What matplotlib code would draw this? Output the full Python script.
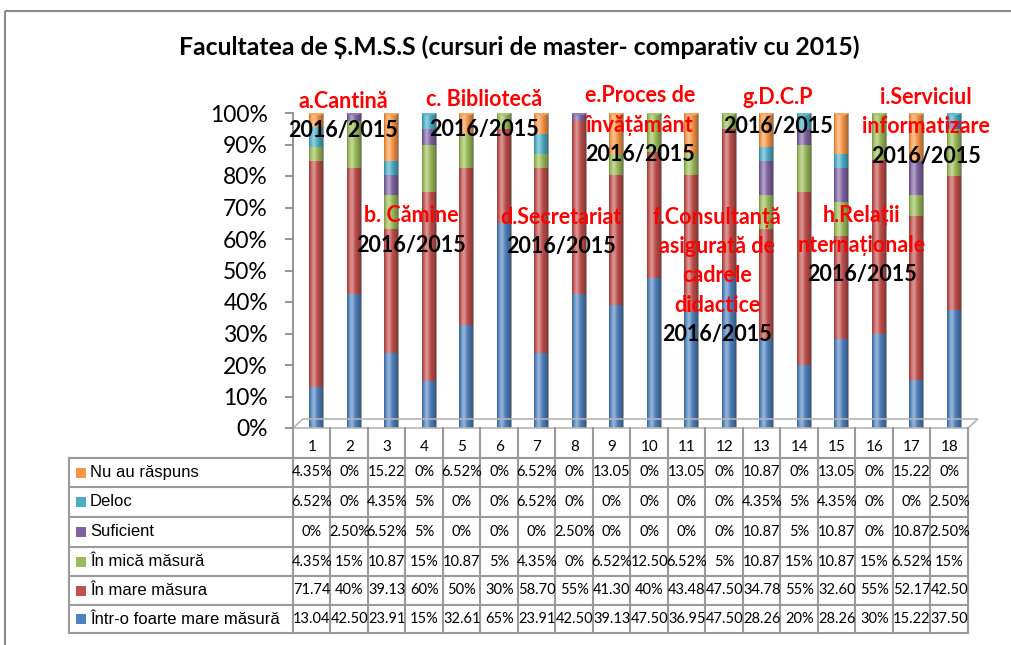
import numpy as np
import matplotlib
matplotlib.use("Agg")
import matplotlib.pyplot as plt
from matplotlib.patches import Ellipse, Rectangle, Polygon
from matplotlib.lines import Line2D

# ---------------- data ----------------
categories = [str(i) for i in range(1, 19)]
series_names = ["Nu au răspuns", "Deloc", "Suficient", "În mică măsură",
                "În mare măsura", "Într-o foarte mare măsură"]
nu_au_raspuns = [4.35, 0, 15.22, 0, 6.52, 0, 6.52, 0, 13.05, 0, 13.05, 0, 10.87, 0, 13.05, 0, 15.22, 0]
deloc = [6.52, 0, 4.35, 5, 0, 0, 6.52, 0, 0, 0, 0, 0, 4.35, 5, 4.35, 0, 0, 2.50]
suficient = [0, 2.50, 6.52, 5, 0, 0, 0, 2.50, 0, 0, 0, 0, 10.87, 5, 10.87, 0, 10.87, 2.50]
in_mica = [4.35, 15, 10.87, 15, 10.87, 5, 4.35, 0, 6.52, 12.50, 6.52, 5, 10.87, 15, 10.87, 15, 6.52, 15]
in_mare = [71.74, 40, 39.13, 60, 50, 30, 58.70, 55, 41.30, 40, 43.48, 47.50, 34.78, 55, 32.60, 55, 52.17, 42.50]
foarte_mare = [13.04, 42.50, 23.91, 15, 32.61, 65, 23.91, 42.50, 39.13, 47.50, 36.95, 47.50, 28.26, 20, 28.26, 30, 15.22, 37.50]
colors = ["#F79646", "#4BACC6", "#8064A2", "#9BBB59", "#C0504D", "#4F81BD"]

title = "Facultatea de Ș.M.S.S (cursuri de master- comparativ cu 2015)"
yticks = [0, 10, 20, 30, 40, 50, 60, 70, 80, 90, 100]

# annotations: (lines, x centre px, first-line y px)
annotations = [
    (["a.Cantină", "2016/2015"], 343, 101),
    (["c. Bibliotecă", "2016/2015"], 484, 100),
    (["b. Cămine", "2016/2015"], 411, 216),
    (["d.Secretariat", "2016/2015"], 561, 217),
    (["e.Proces de", "învățământ", "2016/2015"], 640, 96),
    (["g.D.C.P", "2016/2015"], 778, 97),
    (["i.Serviciul", "informatizare", "2016/2015"], 926, 97),
    (["f.Consultanță", "asigurată de", "cadrele", "didactice", "2016/2015"], 717, 217),
    (["h.Relații", "nternaționale", "2016/2015"], 862, 216),
]

# ---------------- figure ----------------
W, H = 1012, 645
fig = plt.figure(figsize=(W / 100, H / 100), dpi=100)
fig.patch.set_facecolor("white")

def fx(px):
    return px / W

def fy(py):
    return 1 - py / H

x_left, x_right = 293, 968
y_top, y_bot = 113, 428
ax = fig.add_axes([fx(x_left), fy(y_bot), fx(x_right) - fx(x_left), fy(y_top) - fy(y_bot)])
ax.set_facecolor("none")

stack_top_first = [nu_au_raspuns, deloc, suficient, in_mica, in_mare, foarte_mare]
stack = np.array(stack_top_first[::-1], dtype=float)   # bottom -> top
stack_colors = colors[::-1]
totals = stack.sum(axis=0)
pct = stack / totals * 100.0

n = len(categories)
x = np.arange(1, n + 1) + 0.12
bw = 0.38
bottom = np.zeros(n)
for i in range(pct.shape[0]):
    ax.bar(x, pct[i], bw, bottom=bottom, color=stack_colors[i], edgecolor="none", zorder=2)
    bottom += pct[i]

# cylinder shading overlay
t = np.linspace(0, 1, 60)
hl = 0.40 * np.exp(-((t - 0.32) / 0.16) ** 2)
sh = 0.40 * np.clip((t - 0.45) / 0.55, 0, 1) ** 1.5 + 0.22 * np.clip((0.12 - t) / 0.12, 0, 1)
rgba = np.zeros((1, len(t), 4))
for k in range(len(t)):
    if hl[k] >= sh[k]:
        rgba[0, k] = [1, 1, 1, hl[k]]
    else:
        rgba[0, k] = [0, 0, 0, sh[k]]
for j, xi in enumerate(x):
    ax.imshow(rgba, extent=[xi - bw / 2, xi + bw / 2, 0, 100], aspect="auto",
              interpolation="bilinear", zorder=3)
    top_idx = max(i for i in range(pct.shape[0]) if pct[i][j] > 0)
    base = np.array(matplotlib.colors.to_rgb(stack_colors[top_idx]))
    cap = base * 0.85 + 0.15
    ax.add_patch(Ellipse((xi, 100), bw, 1.6, facecolor=cap, edgecolor="none", zorder=4))
    ax.add_patch(Ellipse((xi, 0), bw, 1.6, facecolor=stack_colors[0], edgecolor="none", zorder=1))

ax.set_xlim(0.5, n + 0.5)
ax.set_ylim(0, 100)
ax.set_yticks(yticks)
ax.set_yticklabels([f"{v}%" for v in yticks], fontsize=16.5, family="Lato")
ax.set_xticks([])
for s in ["top", "right", "bottom"]:
    ax.spines[s].set_visible(False)
ax.spines["left"].set_color("#8c8c8c")
ax.spines["left"].set_linewidth(1.3)
ax.tick_params(axis="y", length=6, width=1.3, color="#8c8c8c", pad=12)

# ---------------- overlay (frame, title, table, labels) ----------------
ov = fig.add_axes([0, 0, 1, 1], zorder=5)
ov.set_xlim(0, W)
ov.set_ylim(H, 0)
ov.axis("off")

ov.add_patch(Rectangle((5, 11), W + 20, H + 20, fill=False, edgecolor="#8a8a8a", lw=1.5))

ov.text(519, 47, title, ha="center", va="center", fontsize=17.8, fontweight="bold",
        family="Lato", color="#000000")

# 3D floor
ov.add_patch(Polygon([(293, 428), (968, 428), (978, 419), (303, 419)], closed=True,
                     fill=False, edgecolor="#b5b5b5", lw=1.2, zorder=0))

# table
col_w = (x_right - x_left) / n
row_lines = [458, 487, 517, 547, 576, 605, 633]
grid_c = "#9a9a9a"
for yl in row_lines:
    ov.add_line(Line2D([69, x_right], [yl, yl], color=grid_c, lw=1.5))
for j in range(n + 1):
    xl = x_left + j * col_w
    ov.add_line(Line2D([xl, xl], [y_bot, row_lines[-1]], color=grid_c, lw=1.5))
ov.add_line(Line2D([69, 69], [row_lines[0], row_lines[-1]], color=grid_c, lw=1.5))

for j, c in enumerate(categories):
    ov.text(x_left + (j + 0.5) * col_w, 447, c, ha="center", va="center",
            fontsize=11, family="Lato")

def fmt(v):
    if float(v).is_integer():
        return f"{int(v)}%"
    if v >= 10:
        return f"{v:.2f}"
    return f"{v:.2f}%"

for r, (name, vals, col) in enumerate(zip(series_names, stack_top_first, colors)):
    yc = (row_lines[r] + row_lines[r + 1]) / 2
    ov.add_patch(Rectangle((76, yc - 5), 10, 10, facecolor=col, edgecolor="none"))
    ov.text(90, yc, name, ha="left", va="center", fontsize=12, family="Liberation Sans")
    for j, v in enumerate(vals):
        ov.text(x_left + (j + 0.5) * col_w, yc, fmt(v), ha="center", va="center",
                fontsize=10.5, family="Lato")

# annotations
for lines, xc, y0 in annotations:
    for k, line in enumerate(lines):
        black = line == "2016/2015"
        ov.text(xc, y0 + k * 29.5, line, ha="center", va="center", fontsize=15.5,
                fontweight="bold", family="Lato", color="#000000" if black else "#FF0000")

fig.savefig("out.png", dpi=100)
